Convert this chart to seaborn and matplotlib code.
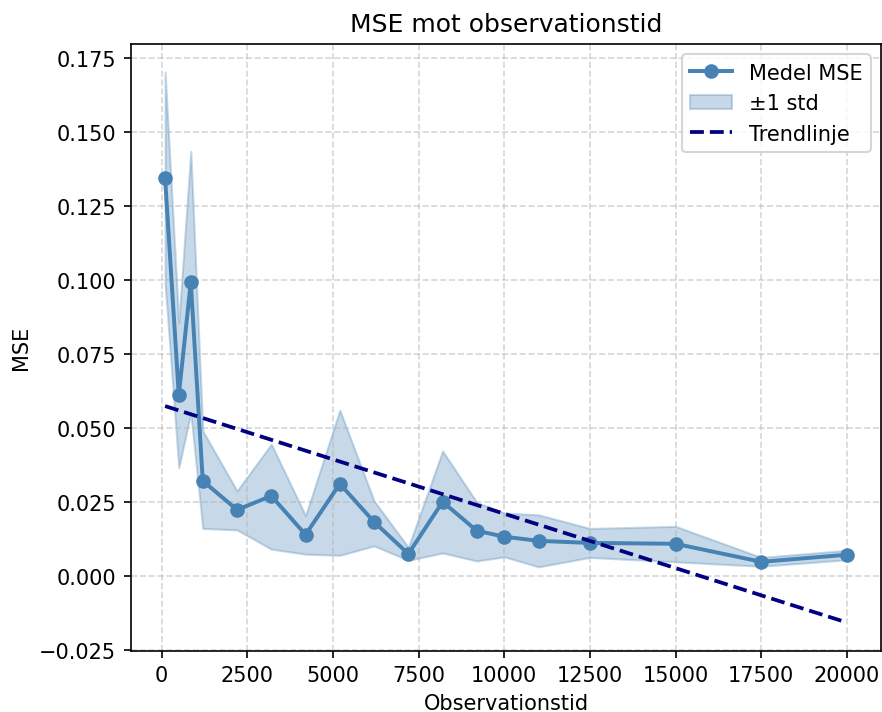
import numpy as np
import pandas as pd
import matplotlib
matplotlib.use("Agg")
import matplotlib.pyplot as plt
import seaborn as sns

# Observation time (x) and mean MSE with its standard deviation band
obs_time = [100, 500, 850, 1200, 2200, 3200, 4200, 5200, 6200, 7200,
            8200, 9200, 10000, 11000, 12500, 15000, 17500, 20000]
mse_mean = [0.1345, 0.0611, 0.0993, 0.0321, 0.0223, 0.0270, 0.0139, 0.0311, 0.0182,
            0.0074, 0.0250, 0.0152, 0.0132, 0.0118, 0.0111, 0.0108, 0.0047, 0.0071]
mse_upper = [0.1704, 0.0856, 0.1436, 0.0490, 0.0287, 0.0445, 0.0203, 0.0560, 0.0253,
             0.0096, 0.0422, 0.0248, 0.0212, 0.0206, 0.0160, 0.0167, 0.0062, 0.0086]
mse_lower = [0.0990, 0.0366, 0.0550, 0.0160, 0.0155, 0.0090, 0.0073, 0.0069, 0.0101,
             0.0052, 0.0077, 0.0050, 0.0064, 0.0030, 0.0062, 0.0047, 0.0032, 0.0054]

df = pd.DataFrame({"t": obs_time, "mse": mse_mean,
                   "lo": mse_lower, "hi": mse_upper})

# Linear trend fitted to the mean MSE
coef = np.polyfit(df["t"], df["mse"], 1)
df["trend"] = np.polyval(coef, df["t"])

fig = plt.figure(figsize=(5.88, 4.7533), dpi=150)
ax = fig.add_axes([131 / 882, 61.5 / 713, 750 / 882, 606.5 / 713])

sns.lineplot(data=df, x="t", y="mse", ax=ax, color="steelblue", marker="o",
             markersize=7, markeredgewidth=0, linewidth=1.9, label="Medel MSE")
ax.fill_between(df["t"], df["lo"], df["hi"], color="steelblue", alpha=0.3,
                label="±1 std")
sns.lineplot(data=df, x="t", y="trend", ax=ax, color="navy", linestyle="--",
             linewidth=1.8, label="Trendlinje")

ax.set_ylim(-0.0253, 0.1799)
ax.set_title("MSE mot observationstid", fontsize=12)
ax.set_xlabel("Observationstid")
ax.set_ylabel("MSE")
ax.grid(True, linestyle="--", alpha=0.5)
ax.legend(loc="upper right")

fig.savefig("out.png", dpi=150)
